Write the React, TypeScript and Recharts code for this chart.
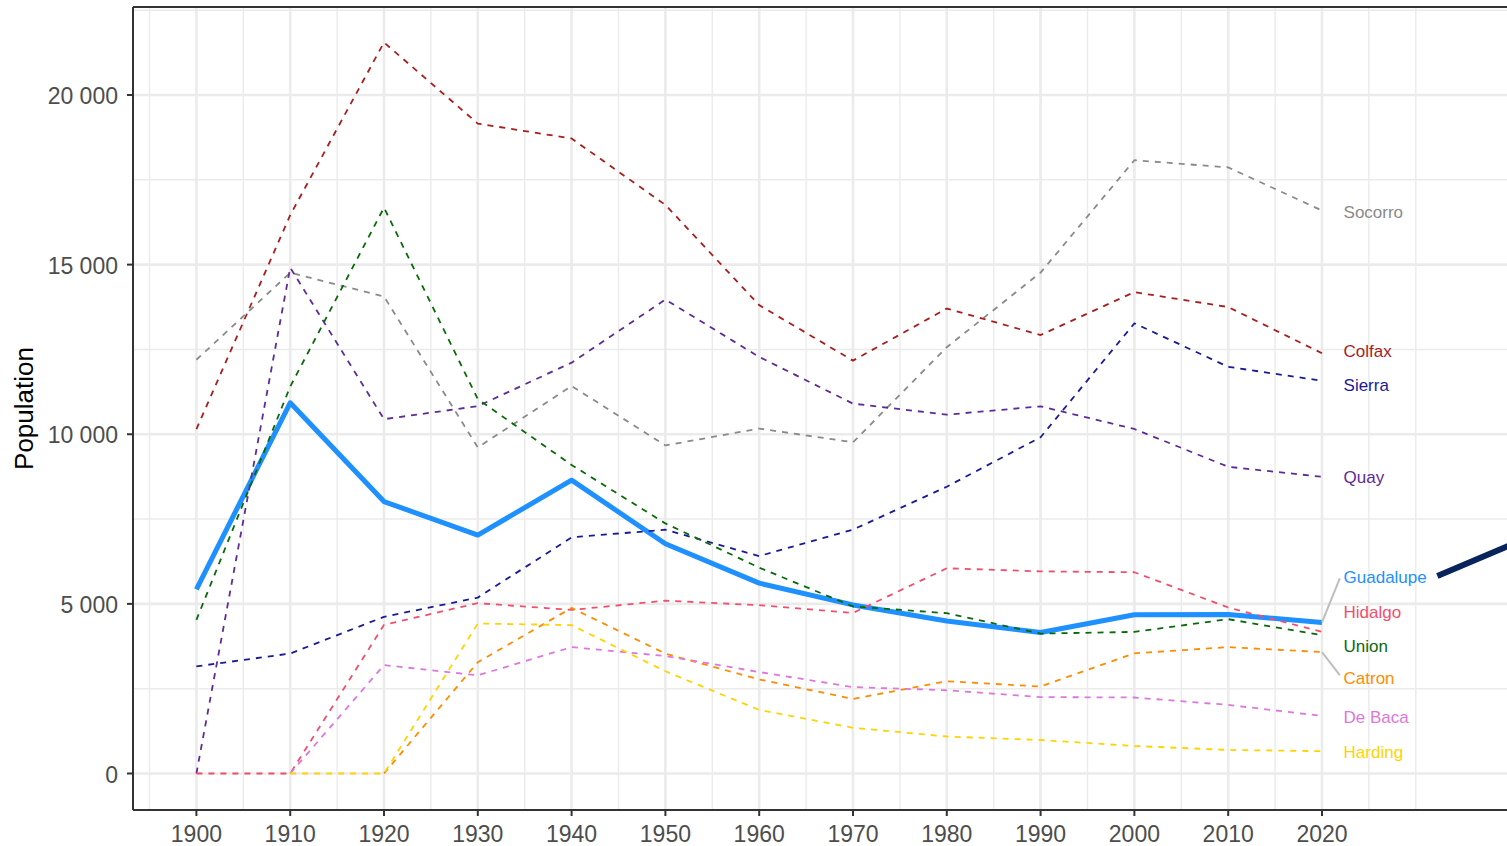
import React from 'react';
import {
  ComposedChart,
  Line,
  XAxis,
  YAxis,
  CartesianGrid,
  ReferenceLine,
  ReferenceDot
} from 'recharts';

// census years and county populations
const years = [1900, 1910, 1920, 1930, 1940, 1950, 1960, 1970, 1980, 1990, 2000, 2010, 2020];

const guadalupe = [5429, 10927, 8015, 7027, 8646, 6772, 5610, 4969, 4496, 4156, 4680, 4687, 4452];
const colfax = [10150, 16460, 21550, 19157, 18718, 16761, 13806, 12170, 13706, 12925, 14189, 13750, 12387];
const socorro = [12195, 14761, 14061, 9611, 11422, 9670, 10168, 9763, 12566, 14764, 18078, 17866, 16595];
const sierra = [3158, 3536, 4619, 5184, 6962, 7186, 6409, 7189, 8454, 9912, 13270, 11988, 11576];
const quay = [0, 14912, 10444, 10828, 12111, 13971, 12279, 10903, 10577, 10823, 10155, 9041, 8746];
const union = [4528, 11404, 16680, 11036, 9095, 7372, 6068, 4925, 4725, 4124, 4174, 4549, 4079];
const hidalgo = [0, 0, 4381, 5023, 4821, 5095, 4961, 4734, 6049, 5958, 5932, 4894, 4178];
const catron = [null, null, 0, 3282, 4881, 3533, 2773, 2198, 2720, 2563, 3543, 3725, 3579];
const deBaca = [null, 0, 3196, 2893, 3725, 3464, 2991, 2547, 2454, 2252, 2240, 2022, 1698];
const harding = [null, 0, 0, 4421, 4374, 3013, 1874, 1348, 1090, 987, 810, 695, 657];

// repelled label heights (population units) at the right end
const labelNames = ['Socorro', 'Colfax', 'Sierra', 'Quay', 'Guadalupe', 'Hidalgo', 'Union', 'Catron', 'De Baca', 'Harding'];
const labelY = [16542, 12454, 11452, 8731, 5783, 4769, 3767, 2806, 1674, 643];
const LABEL_X = 2022.3;

// label connector segments [x1, y1, x2, y2]
const connectors = [
  [2020, 4452, 2021.9, 5750],
  [2020, 3579, 2021.9, 2900]
];

// dark annotation stroke leaving the frame on the right
const pointer = [2032.3, 5822, 2049, 7773];

const xTicks = [1900, 1910, 1920, 1930, 1940, 1950, 1960, 1970, 1980, 1990, 2000, 2010, 2020];
const xMajor = [1900, 1910, 1920, 1930, 1940, 1950, 1960, 1970, 1980, 1990, 2000, 2010, 2020];
const xMinor = [1895, 1905, 1915, 1925, 1935, 1945, 1955, 1965, 1975, 1985, 1995, 2005, 2015, 2025, 2030];
const yTicks = [0, 5000, 10000, 15000, 20000];
const yMinor = [2500, 7500, 12500, 17500, 22500];

const X_DOMAIN = [1893.24, 2049.64];
const Y_DOMAIN = [-1076, 22594];

const counties = [
  { key: 'Guadalupe', values: guadalupe, color: '#1E90FF' },
  { key: 'Colfax', values: colfax, color: '#A81E1E' },
  { key: 'Socorro', values: socorro, color: '#8A8A8A' },
  { key: 'Sierra', values: sierra, color: '#1A1A96' },
  { key: 'Quay', values: quay, color: '#5E2B97' },
  { key: 'Union', values: union, color: '#0A6A0A' },
  { key: 'Hidalgo', values: hidalgo, color: '#F04E6E' },
  { key: 'Catron', values: catron, color: '#FF8C00' },
  { key: 'De Baca', values: deBaca, color: '#DD77DD' },
  { key: 'Harding', values: harding, color: '#FFD400' }
];

const colorOf = (name: string) => counties.find(c => c.key === name)?.color ?? '#000';

const rows = years.map((year, i) => {
  const row: any = { year };
  counties.forEach(c => { row[c.key] = c.values[i]; });
  return row;
});

const FONT = '"Liberation Sans", Arial, Helvetica, sans-serif';

const fmt = (v: number) => String(v).replace(/\B(?=(\d{3})+(?!\d))/g, ' ');

const App: React.FC = () => {
  return (
    <div style={{ position: 'absolute', left: 0, top: 0, width: 1507, height: 846, overflow: 'hidden', background: '#fff', fontFamily: FONT }}>
      <ComposedChart
        width={1600}
        height={846}
        data={rows}
        margin={{ top: 7, right: 0, bottom: 0, left: 0 }}
      >
        <CartesianGrid
          stroke="#EBEBEB"
          strokeWidth={1.4}
          horizontalValues={yMinor}
          verticalValues={xMinor}
        />
        <CartesianGrid
          stroke="#EBEBEB"
          strokeWidth={2.6}
          horizontalValues={yTicks}
          verticalValues={xMajor}
        />
        <XAxis
          dataKey="year"
          type="number"
          domain={X_DOMAIN}
          allowDataOverflow
          ticks={xTicks}
          interval={0}
          height={36}
          tickSize={6}
          tickMargin={10}
          axisLine={{ stroke: '#333', strokeWidth: 2 }}
          tickLine={{ stroke: '#333', strokeWidth: 2 }}
          tick={{ fill: '#4D4D4D', fontSize: 23, fontFamily: FONT }}
        />
        <YAxis
          type="number"
          domain={Y_DOMAIN}
          allowDataOverflow
          ticks={yTicks}
          interval={0}
          width={133}
          tickSize={6}
          tickMargin={9}
          tickFormatter={fmt}
          axisLine={{ stroke: '#333', strokeWidth: 2 }}
          tickLine={{ stroke: '#333', strokeWidth: 2 }}
          tick={{ fill: '#4D4D4D', fontSize: 23, fontFamily: FONT, dy: 1 }}
          label={{
            content: () => (
              <text
                transform="translate(33, 408.5) rotate(-90)"
                textAnchor="middle"
                fill="#000"
                fontSize={26}
                fontFamily={FONT}
              >
                Population
              </text>
            )
          }}
        />
        <ReferenceLine y={Y_DOMAIN[1]} stroke="#333" strokeWidth={2} ifOverflow="visible" />

        {counties.map(c => (
          <Line
            key={c.key}
            dataKey={c.key}
            type="linear"
            stroke={c.color}
            strokeWidth={c.key === 'Guadalupe' ? 5 : 1.8}
            strokeDasharray={c.key === 'Guadalupe' ? undefined : '6 6'}
            strokeLinejoin="round"
            dot={false}
            activeDot={false}
            connectNulls={false}
            isAnimationActive={false}
          />
        ))}

        {connectors.map((s, i) => (
          <ReferenceLine
            key={'con' + i}
            segment={[{ x: s[0], y: s[1] }, { x: s[2], y: s[3] }]}
            stroke="#BEBEBE"
            strokeWidth={2}
            ifOverflow="visible"
          />
        ))}

        <ReferenceLine
          segment={[{ x: pointer[0], y: pointer[1] }, { x: pointer[2], y: pointer[3] }]}
          stroke="#08245C"
          strokeWidth={6}
          ifOverflow="visible"
        />

        {labelNames.map((name, i) => (
          <ReferenceDot
            key={name}
            x={LABEL_X}
            y={labelY[i]}
            r={0}
            ifOverflow="visible"
            shape={(p: any) => (
              <text
                x={p.cx}
                y={p.cy}
                dy="0.36em"
                fill={colorOf(name)}
                fontSize={17}
                fontFamily={FONT}
              >
                {name}
              </text>
            )}
          />
        ))}
      </ComposedChart>
    </div>
  );
};

export default App;
